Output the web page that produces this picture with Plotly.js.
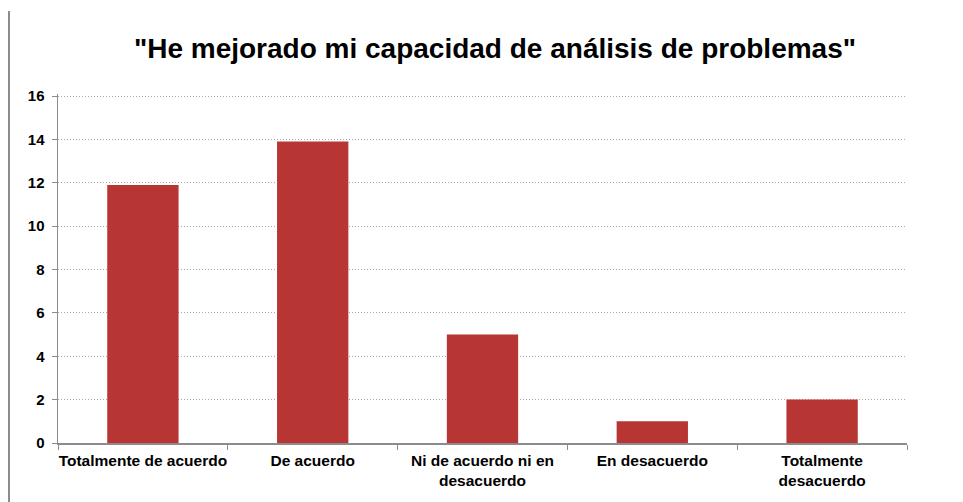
<!DOCTYPE html>
<html>
<head>
<meta charset="utf-8">
<script src="https://cdn.plot.ly/plotly-3.0.1.min.js"></script>
<style>html,body{margin:0;padding:0;background:#fff;}#chart{width:963px;height:502px;}</style>
</head>
<body>
<div id="chart"></div>
<script>
const categories = ["Totalmente de acuerdo", "De acuerdo", "Ni de acuerdo ni en<br>desacuerdo", "En desacuerdo", "Totalmente<br>desacuerdo"];
const values = [11.9, 13.9, 5, 1, 2];
const yTicks = [0, 2, 4, 6, 8, 10, 12, 14, 16];

const trace = {
  type: "bar",
  x: categories,
  y: values,
  width: 0.42,
  marker: {color: "#b73532", line: {width: 0}},
  hoverinfo: "skip"
};

const FONT = "Liberation Sans, Arial, sans-serif";

const layout = {
  width: 963, height: 502,
  margin: {l: 58, r: 56, t: 94, b: 59},
  paper_bgcolor: "#fff", plot_bgcolor: "#fff",
  showlegend: false,
  font: {family: FONT, color: "#000"},
  title: {
    text: "<b>\"He mejorado mi capacidad de análisis de problemas\"</b>",
    font: {size: 28, family: FONT, color: "#000"},
    x: 0.514, xanchor: "center", y: 0.904, yanchor: "middle"
  },
  xaxis: {
    type: "category",
    showgrid: false,
    showline: true, linecolor: "#8c8c8c", linewidth: 1.5,
    ticks: "outside", tickson: "boundaries", ticklen: 5, tickcolor: "#8c8c8c",
    ticklabelstandoff: 3,
    tickfont: {size: 15.5, family: FONT, color: "#000", weight: "bold"},
    tickangle: 0
  },
  yaxis: {
    range: [0, 16.092],
    tickvals: yTicks,
    showgrid: true, gridcolor: "#a8a8a8", griddash: "1px,2px", gridwidth: 1,
    zeroline: false,
    showline: true, linecolor: "#8c8c8c", linewidth: 1.5,
    ticks: "outside", ticklen: 5, tickcolor: "#8c8c8c",
    ticklabelstandoff: 4,
    tickfont: {size: 15, family: FONT, color: "#000", weight: "bold"}
  },
  shapes: [{
    type: "line", xref: "paper", yref: "paper",
    x0: -49/849, x1: -49/849, y0: 1 + 83/349, y1: -59/349,
    line: {color: "#8c8c8c", width: 2}
  }]
};

Plotly.newPlot("chart", [trace], layout, {displayModeBar: false, staticPlot: true});
</script>
</body>
</html>
